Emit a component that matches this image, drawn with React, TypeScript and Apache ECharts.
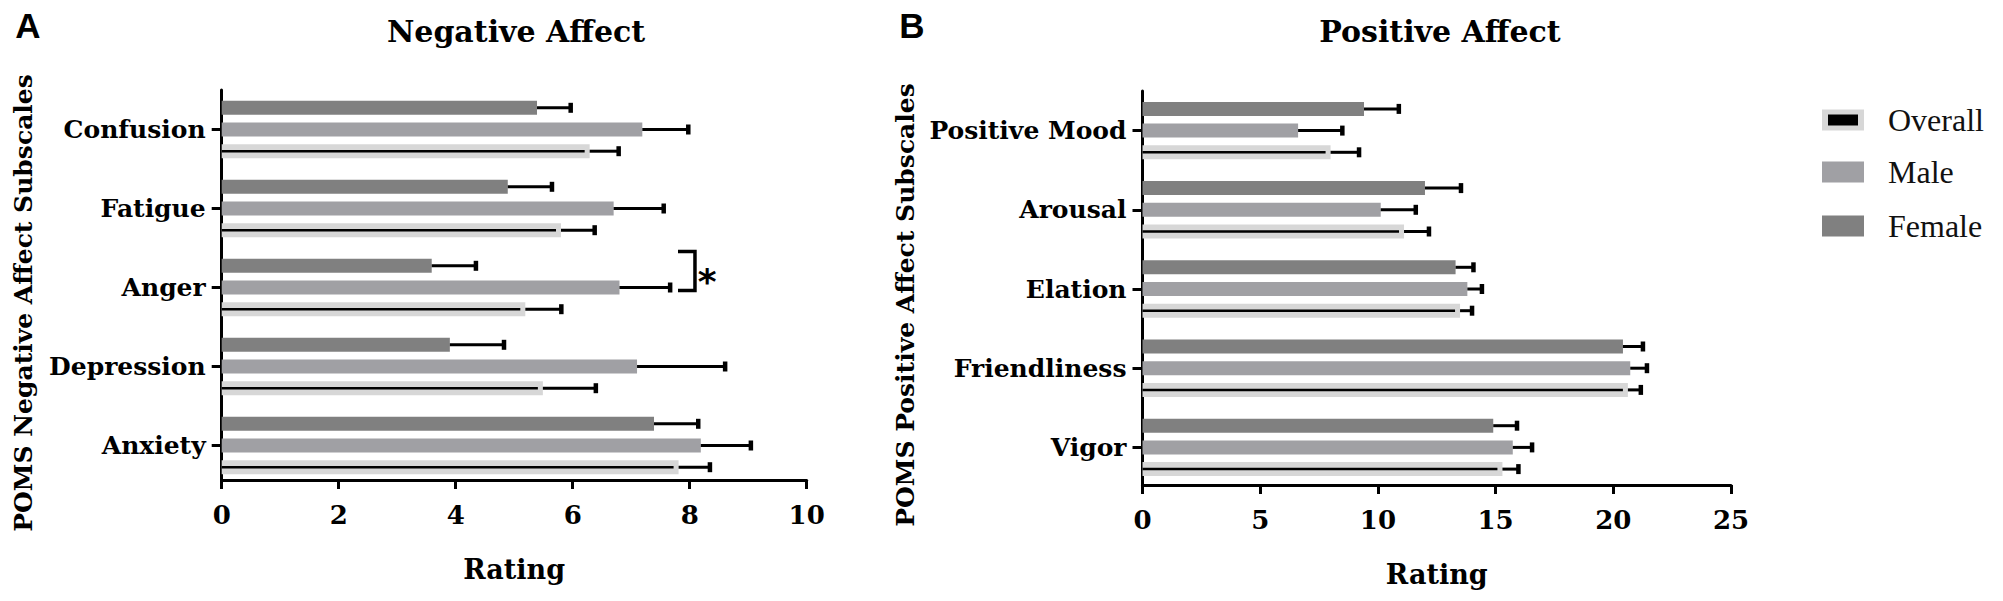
import React, { useEffect, useRef } from "react";
import * as echarts from "echarts";

// ---------- data ----------
const negCategories = ["Confusion", "Fatigue", "Anger", "Depression", "Anxiety"];
const negFemale = [5.39, 4.89, 3.59, 3.9, 7.39];
const negFemaleErr = [0.58, 0.76, 0.76, 0.93, 0.76];
const negMale = [7.19, 6.7, 6.8, 7.1, 8.19];
const negMaleErr = [0.79, 0.86, 0.87, 1.51, 0.86];
const negOverall = [6.29, 5.8, 5.19, 5.49, 7.81];
const negOverallErr = [0.5, 0.58, 0.62, 0.91, 0.54];

const posCategories = ["Positive Mood", "Arousal", "Elation", "Friendliness", "Vigor"];
const posFemale = [9.41, 12.0, 13.3, 20.41, 14.9];
const posFemaleErr = [1.49, 1.54, 0.77, 0.86, 1.02];
const posMale = [6.61, 10.12, 13.8, 20.72, 15.73];
const posMaleErr = [1.89, 1.5, 0.63, 0.72, 0.83];
const posOverall = [7.99, 11.11, 13.49, 20.62, 15.29];
const posOverallErr = [1.22, 1.07, 0.52, 0.56, 0.69];

const negTicks = { min: 0, max: 10, interval: 2 };
const posTicks = { min: 0, max: 25, interval: 5 };

const negAxisTitle = "POMS Negative Affect Subscales";
const posAxisTitle = "POMS Positive Affect Subscales";
const xAxisTitle = "Rating";

// significance bracket on "Anger" (x range in rating units), star position
const sigCategoryIndex = 2;
const sigBracketX = [7.8, 8.09];
const sigStarX = 8.3;

const legendNames = ["Overall", "Male", "Female"];

// ---------- styles ----------
const COLORS = { Female: "#808080", Male: "#a0a0a4", Overall: "#d7d7d7" };
const SERIF = "DejaVu Serif";
const BAR_W = 14;
const BAR_GAP = 0.55;
const PITCH = BAR_W * (1 + BAR_GAP);

function errorSeries(gi: number, means: number[], errs: number[], offset: number, inner: boolean) {
  return {
    type: "custom",
    xAxisIndex: gi,
    yAxisIndex: gi,
    silent: true,
    z: 5,
    data: means.map((m, i) => [m, m + errs[i], i]),
    encode: { x: [0, 1], y: 2 },
    renderItem: (params: any, api: any) => {
      const cat = api.value(2);
      const s = api.coord([api.value(0), cat]);
      const e = api.coord([api.value(1), cat]);
      const o = api.coord([0, cat]);
      const y = s[1] + offset;
      const children: any[] = [
        { type: "line", shape: { x1: s[0], y1: y, x2: e[0], y2: y }, style: { stroke: "#000", lineWidth: 3 } },
        { type: "rect", shape: { x: e[0] - 2.5, y: y - 5, width: 4.5, height: 10 }, style: { fill: "#000" } },
      ];
      if (inner) {
        children.push({
          type: "line",
          shape: { x1: o[0], y1: y, x2: s[0] - 5, y2: y },
          style: { stroke: "#000", lineWidth: 2.5 },
        });
      }
      return { type: "group", children };
    },
  };
}

function barSeries(gi: number, name: string, values: number[]) {
  return {
    type: "bar",
    name,
    xAxisIndex: gi,
    yAxisIndex: gi,
    data: values,
    barWidth: BAR_W,
    barGap: `${BAR_GAP * 100}%`,
    itemStyle: { color: (COLORS as any)[name] },
    silent: true,
  };
}

function yAxis(gi: number, cats: string[]) {
  return {
    type: "category",
    gridIndex: gi,
    data: cats,
    inverse: true,
    axisLine: { show: true, lineStyle: { color: "#000", width: 3 } },
    axisTick: { show: true, alignWithLabel: true, length: 10, lineStyle: { color: "#000", width: 3 } },
    axisLabel: { fontFamily: SERIF, fontWeight: "bold", fontSize: 25, color: "#000", margin: 16 },
    splitLine: { show: false },
  };
}

function xAxis(gi: number, t: { min: number; max: number; interval: number }, offset: number) {
  return {
    type: "value",
    gridIndex: gi,
    min: t.min,
    max: t.max,
    interval: t.interval,
    offset,
    name: xAxisTitle,
    nameLocation: "middle",
    nameGap: 76,
    nameTextStyle: { fontFamily: SERIF, fontWeight: "bold", fontSize: 27, color: "#000" },
    axisLine: { show: true, lineStyle: { color: "#000", width: 3 } },
    axisTick: { show: true, length: 9, lineStyle: { color: "#000", width: 3 } },
    axisLabel: { fontFamily: SERIF, fontWeight: "bold", fontSize: 26, color: "#000", margin: 22 },
    splitLine: { show: false },
  };
}

function textEl(text: string, x: number, y: number, size: number, family: string, weight: string, extra: any = {}) {
  return {
    type: "text",
    x,
    y,
    ...extra,
    style: { text, fontFamily: family, fontWeight: weight, fontSize: size, fill: "#000", align: "center", verticalAlign: "middle" },
  };
}

export default function App() {
  const ref = useRef<HTMLDivElement>(null);
  useEffect(() => {
    if (!ref.current) return;
    const chart = echarts.init(ref.current, undefined, { renderer: "svg" });

    const legendY = [120, 172, 226];
    const legendGraphics: any[] = [];
    legendNames.forEach((n, i) => {
      legendGraphics.push({
        type: "rect",
        shape: { x: 1822, y: legendY[i] - 10.5, width: 42, height: 21 },
        style: { fill: (COLORS as any)[n] },
      });
      if (n === "Overall") {
        legendGraphics.push({
          type: "rect",
          shape: { x: 1828, y: legendY[i] - 5.5, width: 30, height: 11 },
          style: { fill: "#000" },
        });
      }
      legendGraphics.push({
        type: "text",
        x: 1888,
        y: legendY[i],
        style: {
          text: n,
          fontFamily: "Liberation Serif",
          fontSize: 32,
          fill: "#111",
          align: "left",
          verticalAlign: "middle",
        },
      });
    });

    const option: any = {
      animation: false,
      backgroundColor: "#fff",
      grid: [
        { left: 221.7, top: 90, width: 585, height: 395 },
        { left: 1142.5, top: 91, width: 588.5, height: 396 },
      ],
      xAxis: [xAxis(0, negTicks, -5), xAxis(1, posTicks, -2)],
      yAxis: [yAxis(0, negCategories), yAxis(1, posCategories)],
      series: [
        barSeries(0, "Female", negFemale),
        barSeries(0, "Male", negMale),
        barSeries(0, "Overall", negOverall),
        barSeries(1, "Female", posFemale),
        barSeries(1, "Male", posMale),
        barSeries(1, "Overall", posOverall),
        errorSeries(0, negFemale, negFemaleErr, -PITCH, false),
        errorSeries(0, negMale, negMaleErr, 0, false),
        errorSeries(0, negOverall, negOverallErr, PITCH, true),
        errorSeries(1, posFemale, posFemaleErr, -PITCH, false),
        errorSeries(1, posMale, posMaleErr, 0, false),
        errorSeries(1, posOverall, posOverallErr, PITCH, true),
        {
          type: "custom",
          xAxisIndex: 0,
          yAxisIndex: 0,
          silent: true,
          z: 6,
          data: [[sigBracketX[0], sigBracketX[1], sigStarX, sigCategoryIndex]],
          encode: { x: [0, 1, 2], y: 3 },
          renderItem: (params: any, api: any) => {
            const cat = api.value(3);
            const a = api.coord([api.value(0), cat]);
            const b = api.coord([api.value(1), cat]);
            const s = api.coord([api.value(2), cat]);
            const top = a[1] - 36;
            const bot = a[1] + 3;
            return {
              type: "group",
              children: [
                {
                  type: "polyline",
                  shape: { points: [[a[0], top], [b[0], top], [b[0], bot], [a[0], bot]] },
                  style: { stroke: "#000", lineWidth: 3.5, fill: "none" },
                },
                {
                  type: "text",
                  x: s[0],
                  y: a[1] - 6,
                  style: {
                    text: "*",
                    fontFamily: "DejaVu Sans",
                    fontWeight: "bold",
                    fontSize: 36,
                    fill: "#000",
                    align: "center",
                    verticalAlign: "middle",
                  },
                },
              ],
            };
          },
        },
      ],
      graphic: [
        textEl("A", 28, 25, 35, "Liberation Sans", "bold"),
        textEl("B", 912, 25, 35, "Liberation Sans", "bold"),
        textEl("Negative Affect", 516, 31, 30, SERIF, "bold"),
        textEl("Positive Affect", 1440, 31, 30, SERIF, "bold"),
        textEl(negAxisTitle, 23, 303, 25, SERIF, "bold", { rotation: Math.PI / 2 }),
        textEl(posAxisTitle, 905, 305, 25, SERIF, "bold", { rotation: Math.PI / 2 }),
        ...legendGraphics,
      ],
    };
    chart.setOption(option);
    return () => chart.dispose();
  }, []);
  return <div ref={ref} style={{ position: "fixed", left: 0, top: 0, width: 2003, height: 601 }} />;
}
